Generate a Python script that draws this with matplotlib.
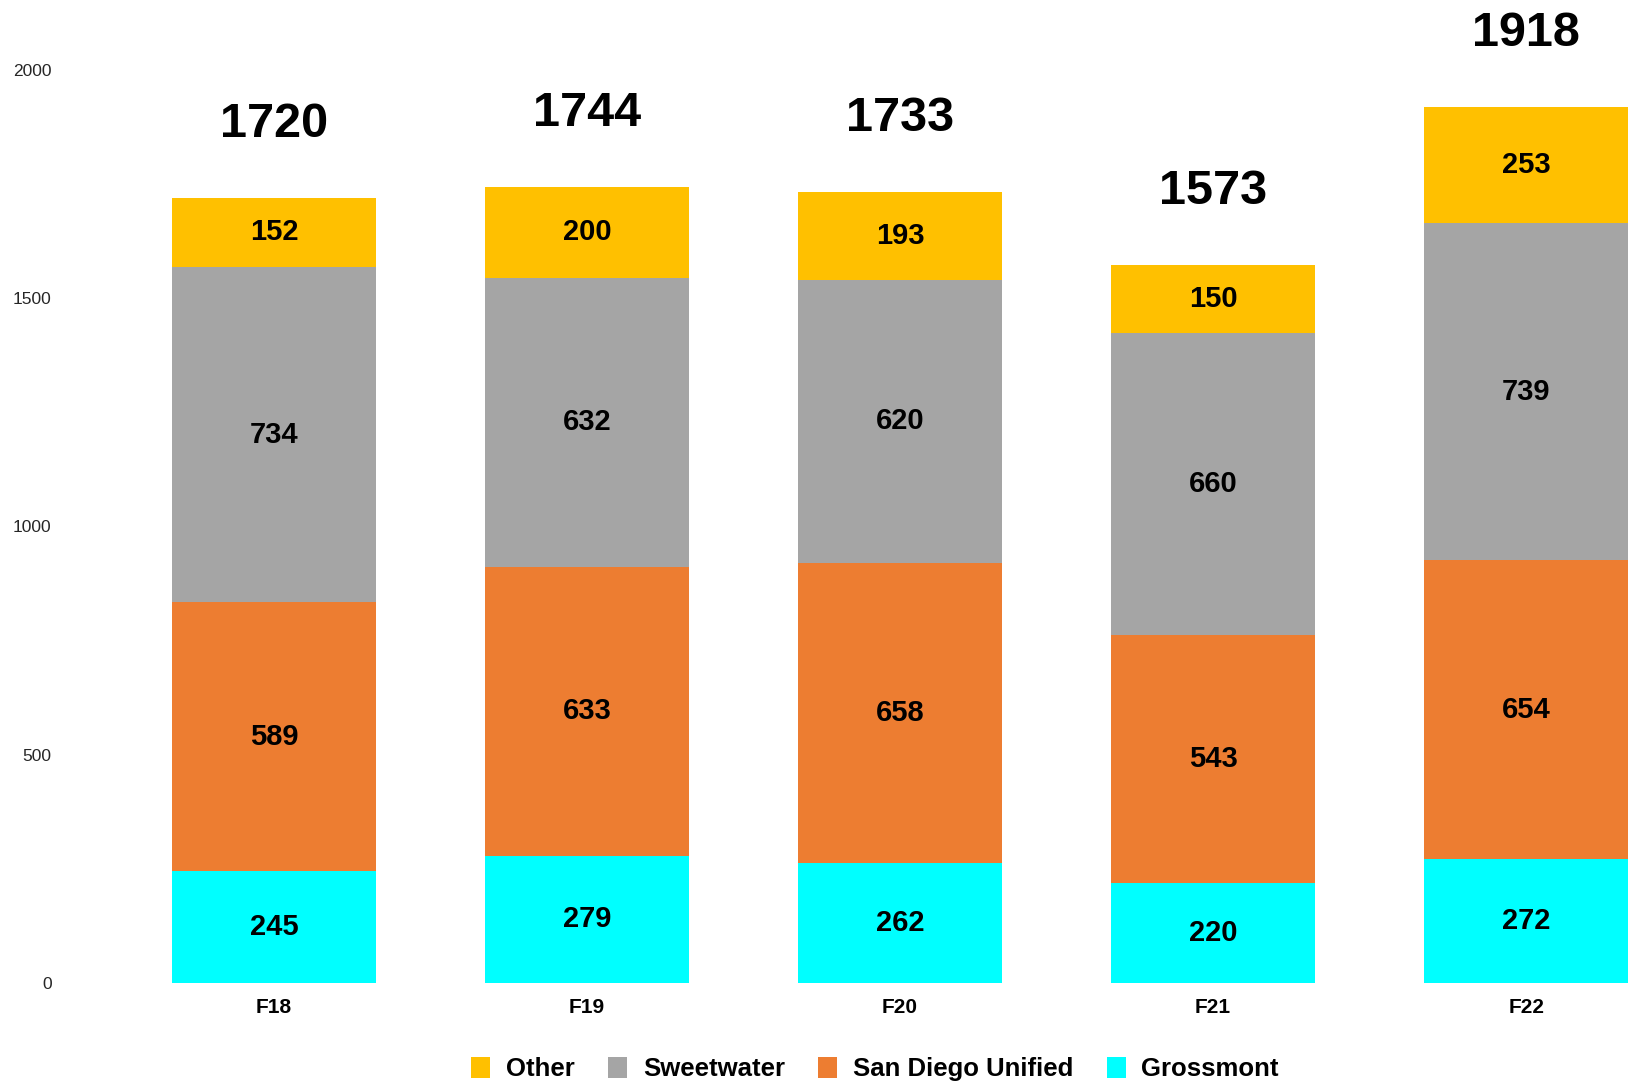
import matplotlib.pyplot as plt
import numpy as np

plt.rcParams['font.family'] = ['Liberation Sans', 'DejaVu Sans']

years = ["F18", "F19", "F20", "F21", "F22"]
grossmont = [245, 279, 262, 220, 272]
san_diego = [589, 633, 658, 543, 654]
sweetwater = [734, 632, 620, 660, 739]
other = [152, 200, 193, 150, 253]

series = [
    ("Grossmont", grossmont, "#00FFFF"),
    ("San Diego Unified", san_diego, "#ED7D31"),
    ("Sweetwater", sweetwater, "#A5A5A5"),
    ("Other", other, "#FFC000"),
]

fig = plt.figure(figsize=(16.31, 10.84), dpi=100)
ax = fig.add_axes([60 / 1631, 1 - 983 / 1084, 1571 / 1631, 983 / 1084])

x = np.arange(len(years))
bottom = np.zeros(len(years))
handles = {}
for name, vals, col in series:
    vals = np.array(vals)
    b = ax.bar(x, vals, 0.65, bottom=bottom, color=col, label=name)
    handles[name] = b
    for xi, v, bt in zip(x, vals, bottom):
        ax.text(xi, bt + v / 2, str(v), ha="center", va="center",
                fontsize=21, fontweight="bold", color="black")
    bottom = bottom + vals

# totals above each stack
for xi, tot in zip(x, bottom):
    ax.annotate(str(int(tot)), (xi, tot), xytext=(0, 53), textcoords="offset points",
                ha="center", va="center", fontsize=35, fontweight="bold",
                annotation_clip=False)

ax.set_xlim(-0.684, 4.335)
ax.set_ylim(0, 2153)
ax.set_yticks([0, 500, 1000, 1500, 2000])
ax.set_xticks(x)
ax.set_xticklabels(years, fontsize=15, fontweight="bold")
ax.tick_params(axis="y", length=0, pad=6, labelsize=12.5, labelcolor="#262626")
ax.tick_params(axis="x", length=0, pad=11)
for s in ax.spines.values():
    s.set_visible(False)

order = ["Other", "Sweetwater", "San Diego Unified", "Grossmont"]
leg = fig.legend([handles[n] for n in order], order, loc="center",
                 bbox_to_anchor=(875 / 1631, 1 - 1069 / 1084), ncol=4, frameon=False,
                 prop={"size": 18.5, "weight": "bold"}, handlelength=0.75, handleheight=0.9,
                 handletextpad=0.6, columnspacing=1.3)

fig.savefig("out.png", dpi=100)
